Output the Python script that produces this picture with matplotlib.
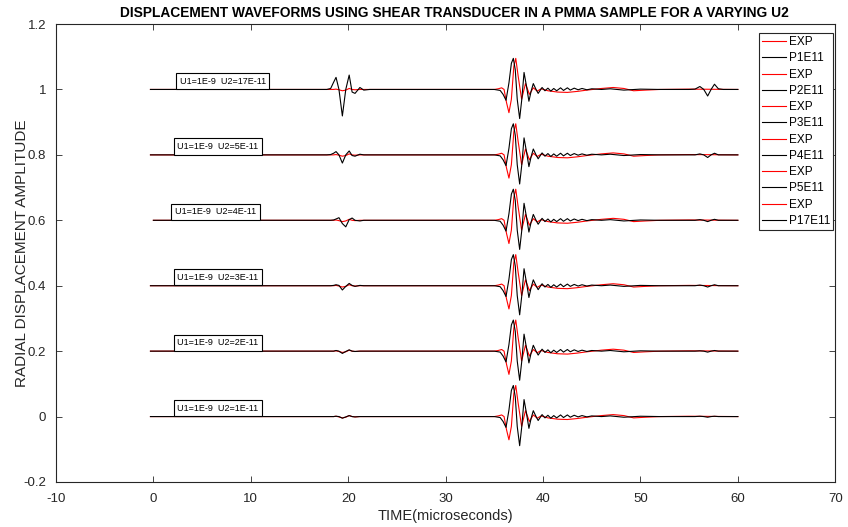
import matplotlib
matplotlib.use("Agg")
import matplotlib.pyplot as plt

plt.rcParams['font.family'] = ['Liberation Sans', 'DejaVu Sans']
plt.rcParams['axes.unicode_minus'] = False

# baselines of the six trace pairs (bottom to top) and their labels
offsets = [0.0, 0.2, 0.4, 0.6, 0.8, 1.0]
u2_labels = ['1E-11', '2E-11', '3E-11', '4E-11', '5E-11', '17E-11']
sim_names = ['P1E11', 'P2E11', 'P3E11', 'P4E11', 'P5E11', 'P17E11']
trace_start = [-0.3, -0.3, -0.3, 0.0, -0.3, -0.3]
box_x = [1.95, 1.95, 1.95, 1.7, 1.95, 2.2]

# early arrival (~19 us), amplitude relative to baseline
t_early = [17.8, 18.2, 18.5, 18.75, 19.05, 19.4, 19.75, 20.1, 20.4, 20.7, 21.2, 21.6, 22.2]
sim_early = [
    [0, 0, 0, 0.001, 0, -0.005, -0.001, 0.003, 0, -0.001, 0, 0, 0],
    [0, 0, 0, 0.002, 0, -0.007, -0.001, 0.004, 0, -0.001, 0, 0, 0],
    [0, 0, 0.001, 0.003, 0.001, -0.013, -0.002, 0.007, 0.001, -0.002, 0.001, 0, 0],
    [0, 0, 0.001, 0.004, 0.008, -0.01, -0.02, 0.002, 0.007, 0, -0.002, 0, 0],
    [0, 0.001, 0.005, 0.01, 0, -0.025, 0, 0.012, -0.002, -0.004, 0.002, 0, 0],
    [0, 0.003, 0.022, 0.037, 0, -0.081, 0, 0.044, -0.008, -0.012, 0.006, -0.002, 0],
]
exp_early = [0, 0, 0, 0.001, -0.001, -0.004, -0.002, 0.003, 0, -0.001, 0, 0, 0]

# main arrival (~37 us)
t_sim_main = [35.0, 35.6, 35.9, 36.2, 36.5, 36.75, 36.95, 37.15, 37.35, 37.6, 37.82,
              38.05, 38.3, 38.55, 38.78, 39.0, 39.25, 39.5, 39.9, 40.2, 40.5, 40.8,
              41.1, 41.4, 41.8, 42.1, 42.5, 42.8, 43.2, 43.6, 44.0, 44.5, 45.0, 46.0,
              46.9, 48.3, 50.0, 52.0, 54.0]
sim_main = [0, -0.003, -0.015, -0.033, 0.02, 0.08, 0.095, 0.06, -0.03, -0.089, -0.03,
            0.052, 0.01, -0.036, -0.005, 0.018, 0.002, -0.012, 0.006, -0.004, 0.004, -0.005,
            0.003, -0.004, 0.005, -0.003, 0.005, -0.002, 0.004, -0.001, 0.003, -0.001, 0.002, 0,
            0.002, -0.002, 0.001, 0, 0]
t_exp_main = [35.0, 35.4, 35.75, 36.0, 36.25, 36.5, 36.75, 37.0, 37.2, 37.45, 37.8,
              38.2, 38.6, 39.0, 39.4, 39.8, 40.5, 41.5, 42.5, 43.5, 44.5,
              46.0, 47.2, 48.3, 49.3, 50.5, 52.0, 55.0]
exp_main = [0, 0.002, 0.005, 0.0, -0.04, -0.071, -0.03, 0.07, 0.095, 0.04, -0.03,
            0.018, -0.015, 0.005, -0.005, 0.002, -0.004, -0.008, -0.009, -0.006, -0.002,
            0.003, 0.006, 0.003, -0.004, -0.002, 0, 0.001]

# late arrival (~57 us), simulation only
t_late = [55.0, 55.6, 56.1, 56.5, 56.9, 57.25, 57.6, 58.0, 58.5]
sim_late = [
    [0, 0, 0.001, 0, -0.002, 0, 0.001, 0, 0],
    [0, 0, 0.001, 0, -0.003, 0, 0.002, 0, 0],
    [0, 0, 0.002, 0, -0.004, 0, 0.003, 0, 0],
    [0, 0, 0.002, 0, -0.004, 0, 0.003, 0, 0],
    [0, 0, 0.003, 0, -0.008, 0, 0.005, 0, 0],
    [0, 0.001, 0.009, 0, -0.02, 0, 0.016, 0.002, 0],
]
t_end = 60.0

fig = plt.figure(figsize=(8.48, 5.27), dpi=100)
ax = fig.add_axes([0.066, 0.0854, 0.919, 0.869])

for i, base in enumerate(offsets):
    t_sim = [trace_start[i]] + t_early + t_sim_main + t_late + [t_end]
    y_sim = [0] + sim_early[i] + sim_main + sim_late[i] + [0]
    t_exp = [trace_start[i]] + t_early + t_exp_main + [t_end]
    y_exp = [0] + exp_early + exp_main + [0]
    ax.plot(t_exp, [base + v for v in y_exp], color='red', lw=0.8, label='EXP')
    ax.plot(t_sim, [base + v for v in y_sim], color='black', lw=0.8, label=sim_names[i])
    ax.text(box_x[i] + 0.5, base + 0.012, 'U1=1E-9  U2=' + u2_labels[i],
            fontsize=6.5, ha='left', va='bottom',
            bbox=dict(boxstyle='square,pad=0.4', fc='white', ec='black', lw=0.8))

ax.set_xlim(-10, 70)
ax.set_ylim(-0.2, 1.2)
ax.set_xticks(range(-10, 71, 10))
ax.set_yticks([-0.2, 0, 0.2, 0.4, 0.6, 0.8, 1.0, 1.2])
ax.set_yticklabels(['-0.2', '0', '0.2', '0.4', '0.6', '0.8', '1', '1.2'])
ax.tick_params(direction='in', top=True, right=True, length=4, width=0.6,
               labelsize=9.5, colors='#262626')
ax.tick_params(axis='x', pad=8)
ax.tick_params(axis='y', pad=7)
for sp in ax.spines.values():
    sp.set_color('#262626')
    sp.set_linewidth(0.8)

ax.set_title('DISPLACEMENT WAVEFORMS USING SHEAR TRANSDUCER IN A PMMA SAMPLE FOR A VARYING U2',
             fontsize=9.9, fontweight='bold', pad=5, x=0.511)
ax.set_xlabel('TIME(microseconds)', fontsize=10.5, color='#262626', labelpad=3)
ax.set_ylabel('RADIAL DISPLACEMENT AMPLITUDE', fontsize=11, color='#262626')
ax.yaxis.set_label_coords(-0.035, 0.5)

leg = ax.legend(loc='upper right', bbox_to_anchor=(0.9975, 0.98), fontsize=8.5,
                frameon=True, fancybox=False, framealpha=1, edgecolor='#262626',
                handlelength=2.0, handletextpad=0.25, labelspacing=0.36,
                borderpad=0.25, borderaxespad=0)
leg.get_frame().set_linewidth(0.8)

fig.savefig('out.png', dpi=100)
